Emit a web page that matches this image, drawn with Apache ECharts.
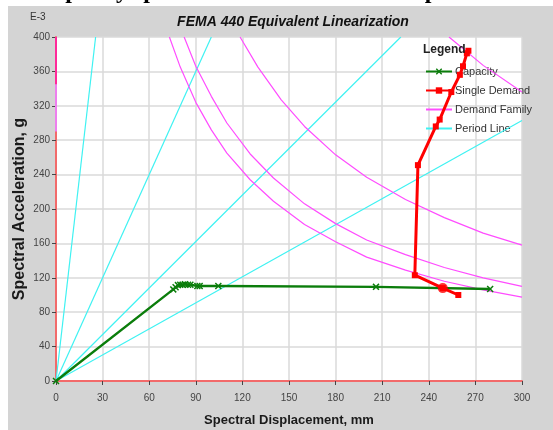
<!DOCTYPE html>
<html><head><meta charset="utf-8">
<script src="https://cdn.jsdelivr.net/npm/echarts@6/dist/echarts.min.js"></script>
<style>html,body{margin:0;padding:0;background:#fff}#c{width:553px;height:430px}</style>
</head><body><div id="c"></div>
<script>
// ---- data (Sd in mm, Sa in g x 1e-3) ----
const xTicks = [0,30,60,90,120,150,180,210,240,270,300];
const yTicks = [0,40,80,120,160,200,240,280,320,360,400];
const capacity = [[0,0],[75.5,106.5],[77,109],[78.5,111.5],[80,112],[81.5,112],[83,112.5],[85,112],[86.5,112],[91,110.5],[92.5,110.5],[104.5,110.5],[206,109.5],[279.5,107]];
const singleDemand = [[265.5,384],[264.5,381],[262,366],[260,356],[254.5,336],[247,304],[244.5,296],[233,251],[231,123],[249,108],[259,100]];
const perfPoint = [[249,108]];
const demandA = [[73,400],[80,365],[90,324],[100,292],[110,265],[125,234],[140,209],[160,182],[180,162],[200,144],[225,129],[250,116],[275,106],[300,97.5]];
const demandB = [[82.5,400],[90,366],[100,331],[110,300],[125,264],[140,236],[160,206],[180,183],[200,164],[225,147],[250,132],[275,120],[300,110]];
const demandC = [[118.5,400],[130,365],[145,327],[160,296],[180,263],[200,237],[225,211],[250,190],[275,172],[300,158]];
const demandD = [[253,400],[275,367],[300,336]];
const demandStart1 = [[0,290],[0,400]];
const demandStart2 = [[0,345],[0,400]];
const period1 = [[0,0],[25.5,400]];
const period2 = [[0,0],[100,400]];
const period3 = [[0,0],[222,400]];
const period4 = [[0,0],[300,303]];

const FONT = '"Liberation Sans", Arial, sans-serif';
const MAG = '#ff4cff', CY = '#3ff2f2', GR = '#0b7d0b', RD = '#ff0000';
const xMark = 'path://M0,1.5L1.5,0L5,3.5L8.5,0L10,1.5L6.5,5L10,8.5L8.5,10L5,6.5L1.5,10L0,8.5L3.5,5Z';

function lineSeries(name, data, color, width, extra) {
  return Object.assign({
    name, type: 'line', data, showSymbol: false, symbol: 'circle',
    lineStyle: { color, width }, itemStyle: { color }, z: 2, animation: false, silent: true
  }, extra || {});
}

const chart = echarts.init(document.getElementById('c'), null, { renderer: 'canvas' });
chart.setOption({
  animation: false,
  backgroundColor: '#ffffff',
  graphic: [
    { type: 'rect', shape: { x: 8, y: 6, width: 545, height: 424 }, style: { fill: '#d4d4d4' }, z: -10, silent: true },
    { type: 'text', left: 36, top: -20, style: { text: 'Capacity spectrum curve vs demand spectrum', font: 'bold 24px "Liberation Serif", serif', fill: '#000' }, z: -5 },
    { type: 'text', left: 30, top: 12, style: { text: 'E-3', font: '10px ' + FONT, fill: '#333' }, z: 10 },
    { type: 'text', left: 423, top: 44, style: { text: 'Legend', font: 'bold 12px ' + FONT, fill: '#222' }, z: 10 }
  ],
  title: {
    text: 'FEMA 440 Equivalent Linearization', left: 288, top: 10, textAlign: 'center',
    textStyle: { fontFamily: FONT, fontSize: 14, fontWeight: 'bold', fontStyle: 'italic', color: '#111' }
  },
  legend: {
    data: [
      { name: 'Capacity' },
      { name: 'Single Demand' },
      { name: 'Demand Family', itemStyle: { opacity: 0 } },
      { name: 'Period Line', itemStyle: { opacity: 0 } }
    ],
    orient: 'vertical', left: 420, top: 61, itemWidth: 26, itemHeight: 8, itemGap: 8, z: 1,
    textStyle: { fontFamily: FONT, fontSize: 11, color: '#333', padding: [0, 0, 0, -2] },
    selectedMode: false
  },
  grid: { left: 56, top: 37, right: 31, bottom: 49, show: true, backgroundColor: '#fff', borderWidth: 0, outerBoundsMode: 'none', containLabel: false },
  xAxis: {
    type: 'value', min: xTicks[0], max: xTicks[xTicks.length - 1], interval: 30,
    name: 'Spectral Displacement, mm', nameLocation: 'middle', nameGap: 33,
    nameTextStyle: { fontFamily: FONT, fontSize: 13, fontWeight: 'bold', color: '#1a1a1a' },
    axisLine: { show: true, onZero: false, lineStyle: { color: '#f26a6a', width: 2 } },
    axisTick: { show: true, length: 4, lineStyle: { color: '#444' } },
    axisLabel: { fontFamily: FONT, fontSize: 10, color: '#444', margin: 12 },
    splitLine: { show: true, lineStyle: { color: '#dadada', width: 1.5 } }
  },
  yAxis: {
    type: 'value', min: yTicks[0], max: yTicks[yTicks.length - 1], interval: 40,
    name: 'Spectral Acceleration, g', nameLocation: 'middle', nameGap: 28, nameMoveOverlap: false,
    nameTextStyle: { fontFamily: FONT, fontSize: 16, fontWeight: 'bold', color: '#1a1a1a' },
    axisLine: { show: true, onZero: false, lineStyle: { color: '#f26a6a', width: 2 } },
    axisTick: { show: true, length: 4, lineStyle: { color: '#444' } },
    axisLabel: { fontFamily: FONT, fontSize: 10, color: '#444', margin: 6 },
    splitLine: { show: true, lineStyle: { color: '#dadada', width: 1.5 } }
  },
  series: [
    lineSeries('Period Line', period1, CY, 1.2),
    lineSeries('Period Line', period2, CY, 1.2),
    lineSeries('Period Line', period3, CY, 1.2),
    lineSeries('Period Line', period4, CY, 1.2),
    lineSeries('Demand Family', demandA, MAG, 1.2),
    lineSeries('Demand Family', demandB, MAG, 1.2),
    lineSeries('Demand Family', demandC, MAG, 1.2),
    lineSeries('Demand Family', demandD, MAG, 1.2),
    lineSeries('Demand Family', demandStart1, '#ee7fee', 2),
    lineSeries('Demand Family', demandStart2, '#ff2a9a', 2),
    lineSeries('Capacity', capacity, GR, 2.4, { showSymbol: true, symbol: xMark, symbolSize: 7, z: 3 }),
    lineSeries('Single Demand', singleDemand, RD, 3, { showSymbol: true, symbol: 'rect', symbolSize: 6, z: 4 }),
    { name: 'Performance Point', type: 'scatter', data: perfPoint, symbol: 'circle', symbolSize: 10,
      itemStyle: { color: RD }, z: 5, silent: true }
  ]
});
</script></body></html>
